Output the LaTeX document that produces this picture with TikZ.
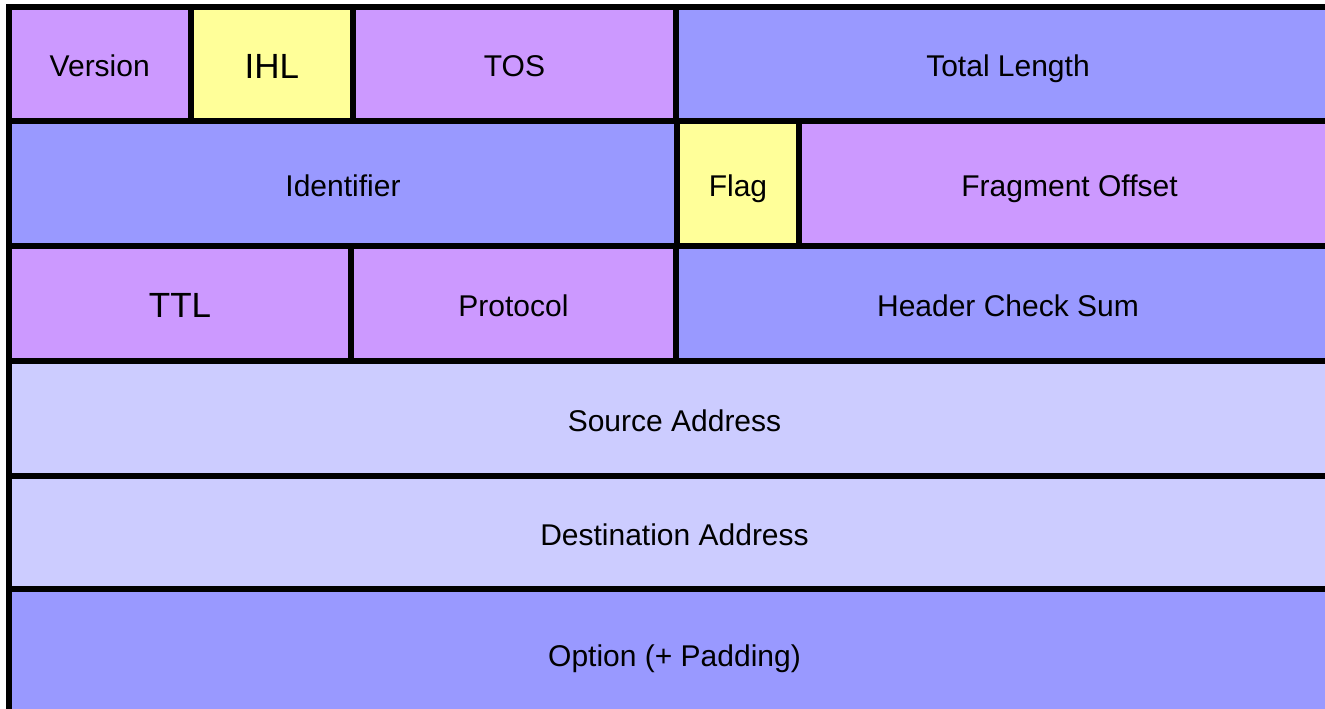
\documentclass[tikz,border=0pt]{standalone}
\usepackage{fontspec}
\setmainfont{Liberation Sans}
\definecolor{fieldpurple}{RGB}{204, 153, 255}
\definecolor{fieldyellow}{RGB}{255, 255, 153}
\definecolor{fieldblue}{RGB}{153, 153, 255}
\definecolor{fieldpale}{RGB}{204, 204, 255}
\usepackage{tikz}
\usetikzlibrary{positioning}

\begin{document}
\begin{tikzpicture}[x=1pt, y=-1pt,
    field/.style={draw=black, line width=6pt, rectangle, inner sep=0pt,
                  text height=26pt, text depth=0pt,
                  font=\fontsize{30}{36}\selectfont},
    bigfield/.style={field, text height=29pt, font=\fontsize{35}{42}\selectfont}]
                    % Page frame
                    \useasboundingbox (0, 0) rectangle (1325, 709);
                    \clip (0, 0) rectangle (1325, 709);
                    
                    % Row 1
                    \node[field, fill=fieldpurple, minimum width=181.5pt, minimum height=114pt] (version) at (99.75, 64) {Version};
                    \node[bigfield, fill=fieldyellow, minimum width=162.5pt, minimum height=114pt] (ihl) at (271.75, 64) {IHL};
                    \node[field, fill=fieldpurple, minimum width=323pt, minimum height=114pt] (tos) at (514.5, 64) {TOS};
                    \node[field, fill=fieldblue, minimum width=664pt, minimum height=114pt] (total) at (1008, 64) {Total Length};
                    
                    % Row 2
                    \node[field, fill=fieldblue, minimum width=668pt, minimum height=124.5pt] (ident) at (343, 183.25) {Identifier};
                    \node[field, fill=fieldyellow, minimum width=122pt, minimum height=124.5pt] (flag) at (738, 183.25) {Flag};
                    \node[field, fill=fieldpurple, minimum width=541pt, minimum height=124.5pt] (frag) at (1069.5, 183.25) {Fragment Offset};
                    
                    % Row 3
                    \node[bigfield, fill=fieldpurple, minimum width=342pt, minimum height=115.5pt] (ttl) at (180, 303.25) {TTL};
                    \node[field, fill=fieldpurple, minimum width=325pt, minimum height=115.5pt] (proto) at (513.5, 303.25) {Protocol};
                    \node[field, fill=fieldblue, minimum width=664pt, minimum height=115.5pt] (checksum) at (1008, 303.25) {Header Check Sum};
                    
                    % Addresses
                    \node[field, fill=fieldpale, minimum width=1331pt, minimum height=114.5pt] (src) at (674.5, 418.25) {Source Address};
                    \node[field, fill=fieldpale, minimum width=1331pt, minimum height=113.5pt] (dst) at (674.5, 532.25) {Destination Address};
                    
                    % Option
                    \node[field, fill=fieldblue, minimum width=1331pt, minimum height=129pt] (option) at (674.5, 653.5) {Option (+ Padding)};
\end{tikzpicture}
\end{document}
